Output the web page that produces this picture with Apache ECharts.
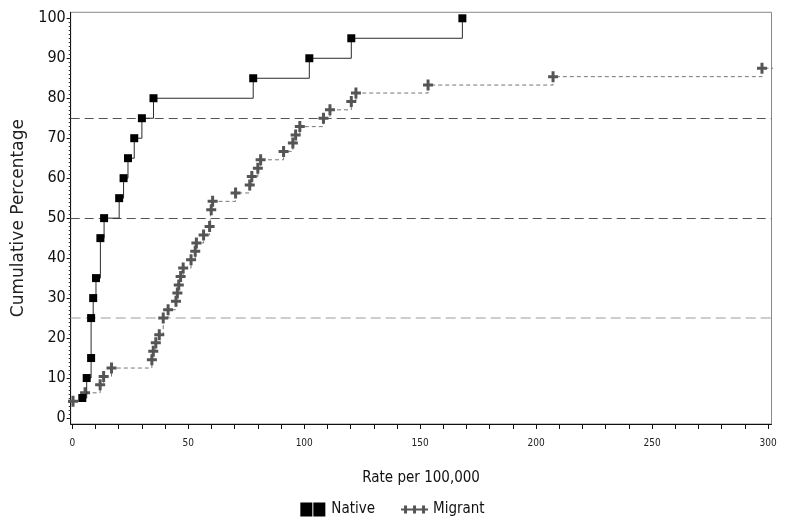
<!DOCTYPE html>
<html>
<head>
<meta charset="utf-8">
<script src="https://cdn.jsdelivr.net/npm/echarts@6/dist/echarts.min.js"></script>
<style>
html,body{margin:0;padding:0;background:#fff;}
#chart{width:785px;height:529px;}
</style>
</head>
<body>
<div id="chart"></div>
<script>
// ---- data ----
const nativeData = [
  [4.3,5],[6.2,10],[8.1,15],[8.1,25],[9.0,30],[10.2,35],[12.1,45],[13.7,50],
  [20.2,55],[22.1,60],[24.0,65],[26.7,70],[30.0,75],[35.0,80],[78.0,85],
  [102.2,90],[120.3,95],[168.2,100]
];
const migrantData = [
  [0.3,4.2],[5.5,6.3],[12.0,8.3],[13.5,10.4],[16.9,12.5],[34.3,14.6],[34.9,16.7],
  [36.0,18.8],[37.5,20.8],[39.2,25.0],[41.3,27.1],[44.7,29.2],[45.3,31.3],[45.9,33.3],
  [46.7,35.4],[47.8,37.5],[51.2,39.6],[53.0,41.7],[53.5,43.8],[56.6,45.8],[59.2,47.9],
  [59.9,52.1],[60.5,54.2],[70.4,56.3],[76.5,58.3],[77.4,60.4],[80.0,62.5],[81.2,64.6],
  [91.1,66.7],[95.1,68.8],[96.3,70.8],[98.1,72.9],[108.3,75.0],[111.1,77.1],[120.3,79.2],
  [122.3,81.3],[153.4,83.3],[207.3,85.4],[297.4,87.5],[320.0,89.6]
];
const refLines = [25, 50, 75];
const yMajorTicks = [0,10,20,30,40,50,60,70,80,90,100];
const yMinorTicks = Array.from({length:101},(_,i)=>i);
const xLabelTicks = [0,50,100,150,200,250,300];
const xTicks = [0,10,20,30,40,50,60,70,80,90,100,110,120,130,140,150,160,170,180,190,200,210,220,230,240,250,260,270,280,290,300];
const seriesNames = ['Native','Migrant'];
const xTitle = 'Rate per 100,000';
const yTitle = 'Cumulative Percentage';

const NARROW = '"Liberation Sans Narrow","DejaVu Sans Condensed","Liberation Sans",sans-serif';
const plusPath = 'path://M3.5,0H6.5V4H10V7H6.5V11H3.5V7H0V4H3.5Z';
const nativeIcon = 'path://M0,0H12V14H0Z M13,0H25V14H13Z';
const migrantIcon = 'path://M3,3H6V6H9V8H6V11H3V8H0V6H3Z M12,3H15V6H18V8H15V11H12V8H9V6H12Z M21,3H24V6H27V8H24V11H21V8H18V6H21Z';

const chart = echarts.init(document.getElementById('chart'), null, {renderer:'canvas'});
const refStyles = {
  25: {color:'#bdbdbd', type:[10,5], width:1.6},
  50: {color:'#555', type:[9,5], width:1},
  75: {color:'#555', type:[9,5], width:1}
};
chart.setOption({
  animation:false,
  backgroundColor:'#fff',
  grid:{left:70.7, right:13.5, top:12.3, bottom:105, show:true, borderColor:'#888', borderWidth:1},
  legend:{
    left:'center', top:497, itemGap:26, itemWidth:27, itemHeight:14,
    textStyle:{fontFamily:NARROW, fontSize:15, color:'#111'},
    data:[{name:seriesNames[0], icon:nativeIcon},{name:seriesNames[1], icon:migrantIcon}]
  },
  xAxis:{
    type:'value', min:-0.7, max:301.5,
    name:xTitle, nameLocation:'middle', nameGap:47,
    nameTextStyle:{fontFamily:NARROW, fontSize:15, color:'#111'},
    axisLine:{onZero:false, lineStyle:{color:'#111', width:1}},
    axisTick:{show:true, length:5, customValues:xTicks, lineStyle:{color:'#111'}},
    axisLabel:{customValues:xLabelTicks, fontFamily:NARROW, fontSize:10, color:'#222', margin:14},
    splitLine:{show:false}
  },
  yAxis:[{
    type:'value', min:-1.5, max:101.5, position:'left',
    name:yTitle, nameLocation:'middle', nameGap:36,
    nameTextStyle:{fontFamily:'"DejaVu Sans",sans-serif', fontSize:17, color:'#222'},
    axisLine:{show:true, onZero:false, lineStyle:{color:'#111', width:1}},
    axisTick:{show:true, length:4, customValues:yMajorTicks, lineStyle:{color:'#111'}},
    axisLabel:{customValues:yMajorTicks, fontFamily:NARROW, fontSize:16, color:'#111', margin:5},
    splitLine:{show:false}
  },{
    type:'value', min:-1.5, max:101.5, position:'left',
    axisLine:{show:false, onZero:false},
    axisTick:{show:true, length:2, customValues:yMinorTicks, lineStyle:{color:'#333'}},
    axisLabel:{show:false},
    splitLine:{show:false}
  }],
  series:[{
    name:seriesNames[0], type:'line', step:'end', data:nativeData,
    yAxisIndex:0, clip:true, z:4,
    symbol:'rect', symbolSize:8, showAllSymbol:true,
    itemStyle:{color:'#000'},
    lineStyle:{color:'#2a2a2a', width:1},
    markLine:{
      silent:true, symbol:['none','none'], label:{show:false}, z:1,
      data:refLines.map(v=>({yAxis:v, lineStyle:refStyles[v]}))
    }
  },{
    name:seriesNames[1], type:'line', step:'end', data:migrantData,
    yAxisIndex:0, clip:true, z:3,
    symbol:plusPath, symbolSize:[10,11], showAllSymbol:true,
    itemStyle:{color:'#555'},
    lineStyle:{color:'#777', width:1, type:[4,3]}
  }]
});
</script>
</body>
</html>
